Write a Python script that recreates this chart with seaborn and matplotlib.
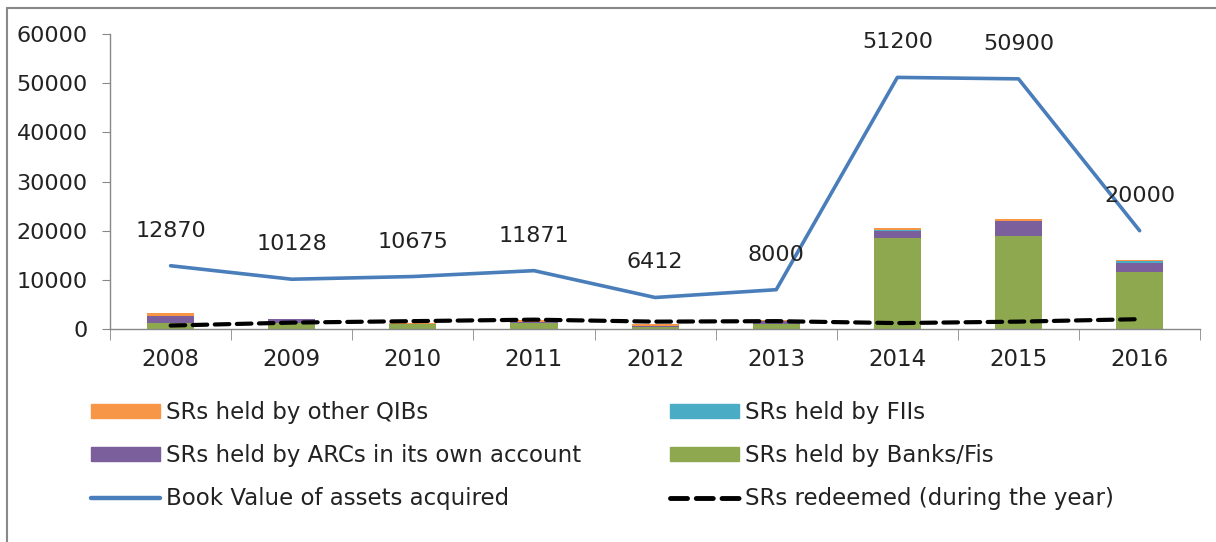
import numpy as np
import pandas as pd
import matplotlib
matplotlib.use('Agg')
import matplotlib.pyplot as plt
import seaborn as sns
from matplotlib.patches import Patch
from matplotlib.lines import Line2D

# data
years = ['2008', '2009', '2010', '2011', '2012', '2013', '2014', '2015', '2016']
book_value = [12870, 10128, 10675, 11871, 6412, 8000, 51200, 50900, 20000]
srs_banks = [1200, 1200, 1000, 1200, 500, 1100, 18600, 18900, 11600]
srs_arcs = [1400, 800, 100, 200, 200, 600, 1400, 3000, 1900]
srs_fiis = [50, 0, 0, 0, 0, 0, 100, 100, 300]
srs_qibs = [600, 100, 200, 500, 300, 200, 400, 400, 300]
srs_redeemed = [700, 1300, 1600, 1900, 1500, 1600, 1200, 1500, 2000]

c_qib = '#F79646'
c_fii = '#4BACC6'
c_arc = '#7B5E9C'
c_bank = '#8DA84E'
c_book = '#4A7EBB'

sns.set_style('white')
plt.rcParams['font.family'] = ['DejaVu Sans']

df = pd.DataFrame({'year': years, 'bank': srs_banks, 'arc': srs_arcs,
                   'fii': srs_fiis, 'qib': srs_qibs})
# cumulative heights so that overlaying gives a stacked look
df['s1'] = df['bank']
df['s2'] = df['s1'] + df['arc']
df['s3'] = df['s2'] + df['fii']
df['s4'] = df['s3'] + df['qib']

fig = plt.figure(figsize=(12.16, 5.42), dpi=100)
ax = fig.add_axes([0.0905, 0.393, 0.8965, 0.544])

for col, c in [('s4', c_qib), ('s3', c_fii), ('s2', c_arc), ('s1', c_bank)]:
    sns.barplot(data=df, x='year', y=col, color=c, width=0.39, ax=ax,
                saturation=1, edgecolor='none', linewidth=0)

xs = np.arange(len(years))
sns.lineplot(x=xs, y=book_value, color=c_book, linewidth=2.6, ax=ax)
sns.lineplot(x=xs, y=srs_redeemed, color='black', linewidth=3,
             dashes=False, ax=ax)
ax.lines[-1].set_dashes((3.5, 1.8))
ax.lines[-1].set_dash_capstyle('round')

for i, v in enumerate(book_value):
    ax.annotate(str(v), (i, v), xytext=(0, 18), textcoords='offset points',
                ha='center', va='bottom', fontsize=16, color='#222222')

ax.set_xlim(-0.5, len(years) - 0.5)
ax.set_ylim(0, 60000)
ax.set_yticks(range(0, 60001, 10000))
ax.set_xlabel('')
ax.set_ylabel('')
ax.set_xticks(xs)
ax.set_xticklabels(years)
ax.set_xticks(np.arange(-0.5, len(years), 1), minor=True)
ax.tick_params(axis='x', which='major', length=0, labelsize=16.5, pad=14,
               labelcolor='#222222')
ax.tick_params(axis='x', which='minor', length=8, color='#888888',
               direction='out', bottom=True)
ax.tick_params(axis='y', length=6, color='#888888', direction='out', left=True,
               labelsize=16, pad=10, labelcolor='#222222')
for s in ['top', 'right']:
    ax.spines[s].set_visible(False)
for s in ['left', 'bottom']:
    ax.spines[s].set_color('#888888')
    ax.spines[s].set_linewidth(1)

handles = [
    Patch(color=c_qib, label='SRs held by other QIBs'),
    Patch(color=c_arc, label='SRs held by ARCs in its own account'),
    Line2D([], [], color=c_book, lw=3.2, solid_capstyle='round',
           label='Book Value of assets acquired'),
    Patch(color=c_fii, label='SRs held by FIIs'),
    Patch(color=c_bank, label='SRs held by Banks/Fis'),
    Line2D([], [], color='black', lw=3.5, dashes=(3.5, 1.8),
           dash_capstyle='round', label='SRs redeemed (during the year)'),
]
leg = fig.legend(handles=handles, ncol=2, loc='upper left',
                 bbox_to_anchor=(0.058, 0.298), frameon=False, fontsize=16.5,
                 handlelength=3.0, handleheight=0.55, columnspacing=3.9,
                 labelspacing=0.88, handletextpad=0.25)
for t in leg.get_texts():
    t.set_color('#222222')

# outer chart border (top and left edges)
fig.add_artist(Line2D([0.006, 1.0], [0.986, 0.986], color='#888888', lw=1.5,
                      transform=fig.transFigure))
fig.add_artist(Line2D([0.006, 0.006], [0.0, 0.986], color='#888888', lw=1.5,
                      transform=fig.transFigure))

fig.savefig('out.png', dpi=100)
